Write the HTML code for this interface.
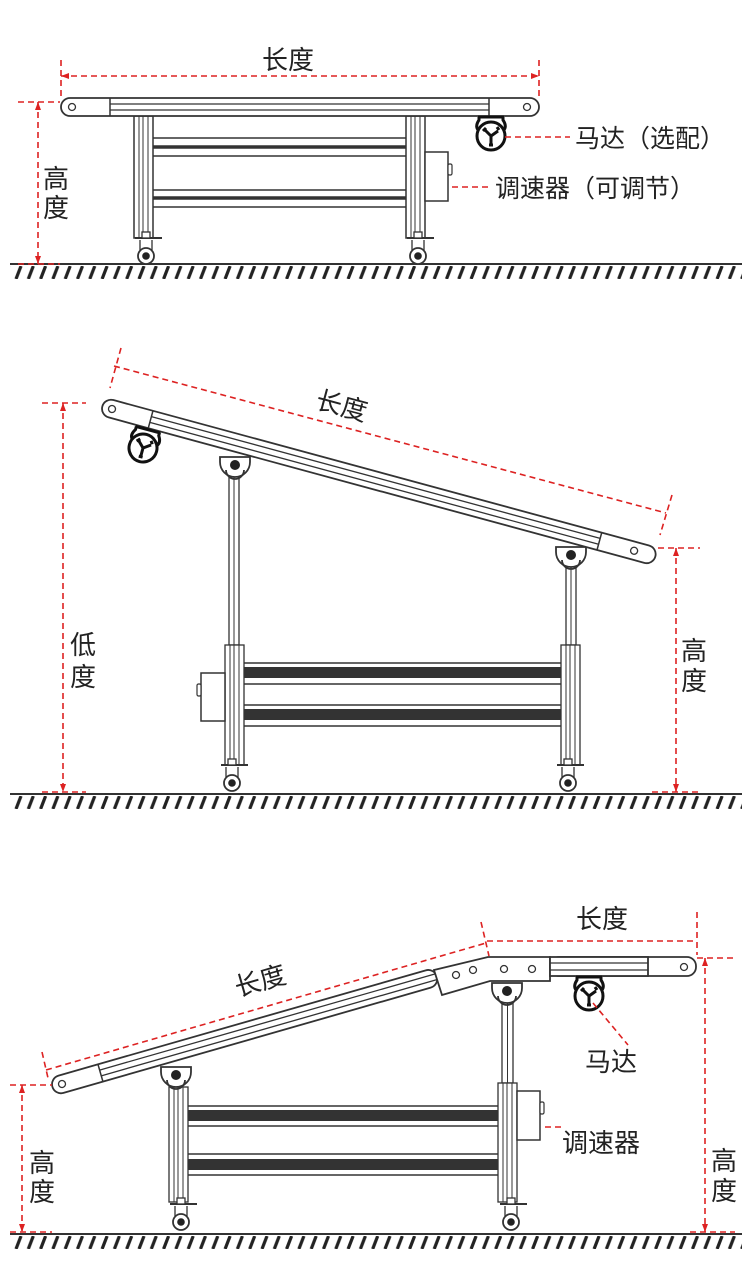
<!DOCTYPE html>
<html><head><meta charset="utf-8">
<style>
html,body{margin:0;padding:0;background:#fff;}
svg{display:block;}
text{font-family:"Liberation Sans","Noto Sans CJK SC",sans-serif;fill:#222;}
</style></head>
<body>
<svg width="750" height="1281" viewBox="0 0 750 1281" xmlns="http://www.w3.org/2000/svg">
<defs>
<pattern id="h1" x="12" y="266" width="12.3" height="13" patternUnits="userSpaceOnUse">
<line x1="9" y1="0" x2="4" y2="13" stroke="#222" stroke-width="3.2"/>
</pattern>
<pattern id="h2" x="12" y="796" width="12.3" height="13" patternUnits="userSpaceOnUse">
<line x1="9" y1="0" x2="4" y2="13" stroke="#222" stroke-width="3.2"/>
</pattern>
<pattern id="h3" x="12" y="1236" width="12.3" height="13" patternUnits="userSpaceOnUse">
<line x1="9" y1="0" x2="4" y2="13" stroke="#222" stroke-width="3.2"/>
</pattern>
<g id="caster">
<line x1="-11" y1="-18" x2="16" y2="-18" stroke="#333" stroke-width="2"/>
<rect x="-4" y="-24" width="8" height="6" fill="#fff" stroke="#333" stroke-width="1.3"/>
<line x1="-6" y1="-16" x2="-6" y2="-6" stroke="#333" stroke-width="1.3"/>
<line x1="6" y1="-16" x2="6" y2="-6" stroke="#333" stroke-width="1.3"/>
<circle cx="0" cy="0" r="8" fill="#fff" stroke="#333" stroke-width="1.8"/>
<circle cx="0" cy="0" r="3.8" fill="#222"/>
</g>
<g id="motor">
<path d="M-12,-19 L-12,-16 Q-16,-10 -13,-6" fill="none" stroke="#111" stroke-width="3"/>
<path d="M12,-19 L12,-16 Q16,-10 13,-6" fill="none" stroke="#111" stroke-width="3"/>
<line x1="-13" y1="-19" x2="13" y2="-19" stroke="#111" stroke-width="3"/>
<circle cx="0" cy="0" r="14" fill="#fff" stroke="#111" stroke-width="3"/>
<path d="M0,0 L-6,-6 M0,0 L7,-5 M0,0 L0,8 M-8,-5 l3,-3 M8,-6 l-2,-3 M-2,9 l4,0" stroke="#111" stroke-width="3" fill="none"/>
</g>
<g id="pulley">
<path d="M-15,-5 A15,15 0 1,0 15,-5 L15,-10 L-15,-10 Z" fill="#fff" stroke="#333" stroke-width="1.8"/>
<path d="M-9,3 A9,9 0 0,0 9,3" fill="none" stroke="#333" stroke-width="1.8"/>
<circle cx="0" cy="-2" r="5" fill="#222"/>
</g>
</defs>

<!-- ============ PANEL 1 ============ -->
<line x1="10" y1="264" x2="742" y2="264" stroke="#333" stroke-width="2"/>
<rect x="10" y="266" width="732" height="13" fill="url(#h1)"/>

<g stroke="#333" stroke-width="1.5" fill="#fff">
<rect x="134" y="116" width="19" height="122"/>
<rect x="406" y="116" width="19" height="122"/>
</g>
<g stroke="#333" stroke-width="1">
<line x1="139" y1="116" x2="139" y2="238"/><line x1="143" y1="116" x2="143" y2="238"/><line x1="148" y1="116" x2="148" y2="238"/>
<line x1="411" y1="116" x2="411" y2="238"/><line x1="415" y1="116" x2="415" y2="238"/><line x1="420" y1="116" x2="420" y2="238"/>
</g>
<g stroke="#333">
<line x1="153" y1="138" x2="406" y2="138" stroke-width="1.5"/>
<line x1="153" y1="147" x2="406" y2="147" stroke-width="3.5"/>
<line x1="153" y1="156" x2="406" y2="156" stroke-width="1.5"/>
<line x1="153" y1="190" x2="406" y2="190" stroke-width="1.5"/>
<line x1="153" y1="198" x2="406" y2="198" stroke-width="3.5"/>
<line x1="153" y1="207" x2="406" y2="207" stroke-width="1.5"/>
</g>
<rect x="425" y="152" width="23" height="49" fill="#fff" stroke="#333" stroke-width="1.5"/>
<rect x="448" y="164" width="4" height="11" rx="1.5" fill="#fff" stroke="#333" stroke-width="1.2"/>
<rect x="61" y="98" width="478" height="18" rx="9" fill="#fff" stroke="#333" stroke-width="1.8"/>
<line x1="110" y1="98" x2="110" y2="116" stroke="#333" stroke-width="1.5"/>
<line x1="489" y1="98" x2="489" y2="116" stroke="#333" stroke-width="1.5"/>
<line x1="110" y1="104" x2="489" y2="104" stroke="#333" stroke-width="1.3"/>
<line x1="110" y1="110" x2="489" y2="110" stroke="#333" stroke-width="1.3"/>
<circle cx="72" cy="107" r="3.5" fill="#fff" stroke="#333" stroke-width="1.3"/>
<circle cx="527" cy="107" r="3.5" fill="#fff" stroke="#333" stroke-width="1.3"/>
<use href="#motor" x="491" y="136"/>
<use href="#caster" x="146" y="256"/>
<use href="#caster" x="418" y="256"/>

<g stroke="#d22" stroke-width="1.6" fill="none" stroke-dasharray="6,4">
<line x1="61" y1="76" x2="539" y2="76"/>
<line x1="61" y1="60" x2="61" y2="96"/>
<line x1="539" y1="60" x2="539" y2="96"/>
<line x1="38" y1="102" x2="38" y2="264"/>
<line x1="18" y1="102" x2="60" y2="102"/>
<line x1="18" y1="264" x2="60" y2="264"/>
<line x1="505" y1="137" x2="570" y2="137"/>
<line x1="452" y1="187" x2="492" y2="187"/>
</g>
<g fill="#d22">
<path d="M61,76 l8,-3 v6 z"/><path d="M539,76 l-8,-3 v6 z"/>
<path d="M38,102 l-3,8 h6 z"/><path d="M38,264 l-3,-8 h6 z"/>
</g>
<text x="288" y="69" font-size="26" text-anchor="middle">长度</text>
<text x="56" y="188" font-size="26" text-anchor="middle">高</text>
<text x="56" y="217" font-size="26" text-anchor="middle">度</text>
<text x="575" y="147" font-size="25">马达（选配）</text>
<text x="495" y="197" font-size="25">调速器（可调节）</text>

<!-- ============ PANEL 2 ============ -->
<line x1="10" y1="794" x2="742" y2="794" stroke="#333" stroke-width="2"/>
<rect x="10" y="796" width="732" height="13" fill="url(#h2)"/>

<g stroke="#333" stroke-width="1.3" fill="#fff">
<rect x="229" y="470" width="10" height="175"/>
<rect x="566" y="560" width="10" height="85"/>
<rect x="225" y="645" width="19" height="120"/>
<rect x="561" y="645" width="19" height="120"/>
</g>
<g stroke="#333" stroke-width="1">
<line x1="234" y1="470" x2="234" y2="645"/><line x1="571" y1="560" x2="571" y2="645"/>
<line x1="230" y1="645" x2="230" y2="765"/><line x1="234" y1="645" x2="234" y2="765"/><line x1="239" y1="645" x2="239" y2="765"/>
<line x1="566" y1="645" x2="566" y2="765"/><line x1="570" y1="645" x2="570" y2="765"/><line x1="575" y1="645" x2="575" y2="765"/>
</g>
<g stroke="#333">
<line x1="244" y1="663" x2="561" y2="663" stroke-width="1.5"/>
<rect x="244" y="667" width="317" height="11" fill="#333" stroke="none"/>
<line x1="244" y1="684" x2="561" y2="684" stroke-width="1.5"/>
<line x1="244" y1="705" x2="561" y2="705" stroke-width="1.5"/>
<rect x="244" y="709" width="317" height="11" fill="#333" stroke="none"/>
<line x1="244" y1="726" x2="561" y2="726" stroke-width="1.5"/>
</g>
<rect x="201" y="673" width="24" height="48" fill="#fff" stroke="#333" stroke-width="1.5"/>
<rect x="197" y="684" width="4" height="12" rx="1.5" fill="#fff" stroke="#333" stroke-width="1.2"/>
<use href="#caster" x="232" y="783"/>
<use href="#caster" x="568" y="783"/>
<use href="#pulley" x="235" y="467"/>
<use href="#pulley" x="571" y="557"/>
<g transform="translate(112,409) rotate(15.19)">
<rect x="-10" y="-9" width="573" height="18" rx="9" fill="#fff" stroke="#333" stroke-width="1.8"/>
<line x1="40" y1="-9" x2="40" y2="9" stroke="#333" stroke-width="1.5"/>
<line x1="505" y1="-9" x2="505" y2="9" stroke="#333" stroke-width="1.5"/>
<line x1="40" y1="-3" x2="505" y2="-3" stroke="#333" stroke-width="1.3"/>
<line x1="40" y1="3" x2="505" y2="3" stroke="#333" stroke-width="1.3"/>
<circle cx="0" cy="0" r="3.5" fill="#fff" stroke="#333" stroke-width="1.3"/>
<circle cx="541" cy="0" r="3.5" fill="#fff" stroke="#333" stroke-width="1.3"/>
</g>
<use href="#motor" x="143" y="448" transform="rotate(15 143 448)"/>
<g stroke="#d22" stroke-width="1.6" fill="none" stroke-dasharray="6,4">
<line x1="114" y1="366" x2="666" y2="513"/>
<line x1="121" y1="348" x2="110" y2="388"/>
<line x1="672" y1="495" x2="660" y2="535"/>
<line x1="63" y1="403" x2="63" y2="792"/>
<line x1="42" y1="403" x2="86" y2="403"/>
<line x1="42" y1="792" x2="86" y2="792"/>
<line x1="676" y1="548" x2="676" y2="792"/>
<line x1="658" y1="548" x2="700" y2="548"/>
<line x1="652" y1="792" x2="700" y2="792"/>
</g>
<g fill="#d22">
<path d="M63,403 l-3,8 h6 z"/><path d="M63,792 l-3,-8 h6 z"/>
<path d="M676,548 l-3,8 h6 z"/><path d="M676,792 l-3,-8 h6 z"/>
</g>
<text x="342" y="415" font-size="26" text-anchor="middle" transform="rotate(15 342 405)">长度</text>
<text x="83" y="654" font-size="26" text-anchor="middle">低</text>
<text x="83" y="686" font-size="26" text-anchor="middle">度</text>
<text x="694" y="660" font-size="26" text-anchor="middle">高</text>
<text x="694" y="690" font-size="26" text-anchor="middle">度</text>

<!-- ============ PANEL 3 ============ -->
<line x1="10" y1="1234" x2="742" y2="1234" stroke="#333" stroke-width="2"/>
<rect x="10" y="1236" width="732" height="13" fill="url(#h3)"/>

<g stroke="#333" stroke-width="1.3" fill="#fff">
<rect x="502" y="1000" width="11" height="83"/>
<rect x="169" y="1087" width="19" height="115"/>
<rect x="498" y="1083" width="19" height="119"/>
</g>
<g stroke="#333" stroke-width="1">
<line x1="507.5" y1="1000" x2="507.5" y2="1083"/>
<line x1="174" y1="1087" x2="174" y2="1202"/><line x1="178" y1="1087" x2="178" y2="1202"/><line x1="183" y1="1087" x2="183" y2="1202"/>
<line x1="503" y1="1083" x2="503" y2="1202"/><line x1="507" y1="1083" x2="507" y2="1202"/><line x1="512" y1="1083" x2="512" y2="1202"/>
</g>
<g stroke="#333">
<line x1="188" y1="1106" x2="498" y2="1106" stroke-width="1.5"/>
<rect x="188" y="1110" width="310" height="11" fill="#333" stroke="none"/>
<line x1="188" y1="1126" x2="498" y2="1126" stroke-width="1.5"/>
<line x1="188" y1="1154" x2="498" y2="1154" stroke-width="1.5"/>
<rect x="188" y="1159" width="310" height="11" fill="#333" stroke="none"/>
<line x1="188" y1="1175" x2="498" y2="1175" stroke-width="1.5"/>
</g>
<rect x="517" y="1091" width="23" height="49" fill="#fff" stroke="#333" stroke-width="1.5"/>
<rect x="540" y="1102" width="4" height="12" rx="1.5" fill="#fff" stroke="#333" stroke-width="1.2"/>
<use href="#caster" x="181" y="1222"/>
<use href="#caster" x="511" y="1222"/>
<use href="#pulley" x="176" y="1077"/>
<use href="#pulley" x="507" y="993"/>
<g transform="translate(62,1084) rotate(-16)">
<rect x="-10" y="-9" width="400" height="18" rx="9" fill="#fff" stroke="#333" stroke-width="1.8"/>
<line x1="40" y1="-9" x2="40" y2="9" stroke="#333" stroke-width="1.5"/>
<line x1="40" y1="-3" x2="390" y2="-3" stroke="#333" stroke-width="1.3"/>
<line x1="40" y1="3" x2="390" y2="3" stroke="#333" stroke-width="1.3"/>
<circle cx="0" cy="0" r="3.5" fill="#fff" stroke="#333" stroke-width="1.3"/>
</g>
<path d="M434,970 L488,957 L550,957 L550,981 L490,981 L442,995 Z" fill="#fff" stroke="#333" stroke-width="1.8"/>
<circle cx="456" cy="975" r="3.5" fill="#fff" stroke="#333" stroke-width="1.3"/>
<circle cx="473" cy="970" r="3.5" fill="#fff" stroke="#333" stroke-width="1.3"/>
<circle cx="504" cy="969" r="3.5" fill="#fff" stroke="#333" stroke-width="1.3"/>
<circle cx="532" cy="969" r="3.5" fill="#fff" stroke="#333" stroke-width="1.3"/>
<rect x="550" y="957" width="146" height="19" rx="9" fill="#fff" stroke="#333" stroke-width="1.8"/>
<rect x="550" y="957" width="98" height="19" fill="#fff" stroke="#333" stroke-width="1.8"/>
<line x1="550" y1="963" x2="648" y2="963" stroke="#333" stroke-width="1.3"/>
<line x1="550" y1="970" x2="648" y2="970" stroke="#333" stroke-width="1.3"/>
<circle cx="684" cy="967" r="3.5" fill="#fff" stroke="#333" stroke-width="1.3"/>
<use href="#motor" x="589" y="996"/>
<g stroke="#d22" stroke-width="1.6" fill="none" stroke-dasharray="6,4">
<line x1="46" y1="1070" x2="486" y2="943"/>
<line x1="42" y1="1052" x2="48" y2="1078"/>
<line x1="481" y1="922" x2="489" y2="956"/>
<line x1="487" y1="941" x2="697" y2="941"/>
<line x1="697" y1="912" x2="697" y2="955"/>
<line x1="705" y1="958" x2="705" y2="1232"/>
<line x1="697" y1="958" x2="735" y2="958"/>
<line x1="690" y1="1232" x2="735" y2="1232"/>
<line x1="22" y1="1085" x2="22" y2="1232"/>
<line x1="10" y1="1085" x2="52" y2="1085"/>
<line x1="10" y1="1232" x2="52" y2="1232"/>
<line x1="593" y1="1003" x2="628" y2="1045"/>
<line x1="545" y1="1127" x2="562" y2="1127"/>
</g>
<g fill="#d22">
<path d="M705,958 l-3,8 h6 z"/><path d="M705,1232 l-3,-8 h6 z"/>
<path d="M22,1085 l-3,8 h6 z"/><path d="M22,1232 l-3,-8 h6 z"/>
</g>
<text x="602" y="928" font-size="26" text-anchor="middle">长度</text>
<text x="260" y="990" font-size="26" text-anchor="middle" transform="rotate(-16 260 980)">长度</text>
<text x="585" y="1071" font-size="26">马达</text>
<text x="562" y="1152" font-size="26">调速器</text>
<text x="42" y="1172" font-size="26" text-anchor="middle">高</text>
<text x="42" y="1201" font-size="26" text-anchor="middle">度</text>
<text x="724" y="1170" font-size="26" text-anchor="middle">高</text>
<text x="724" y="1200" font-size="26" text-anchor="middle">度</text>
</svg>
</body></html>
